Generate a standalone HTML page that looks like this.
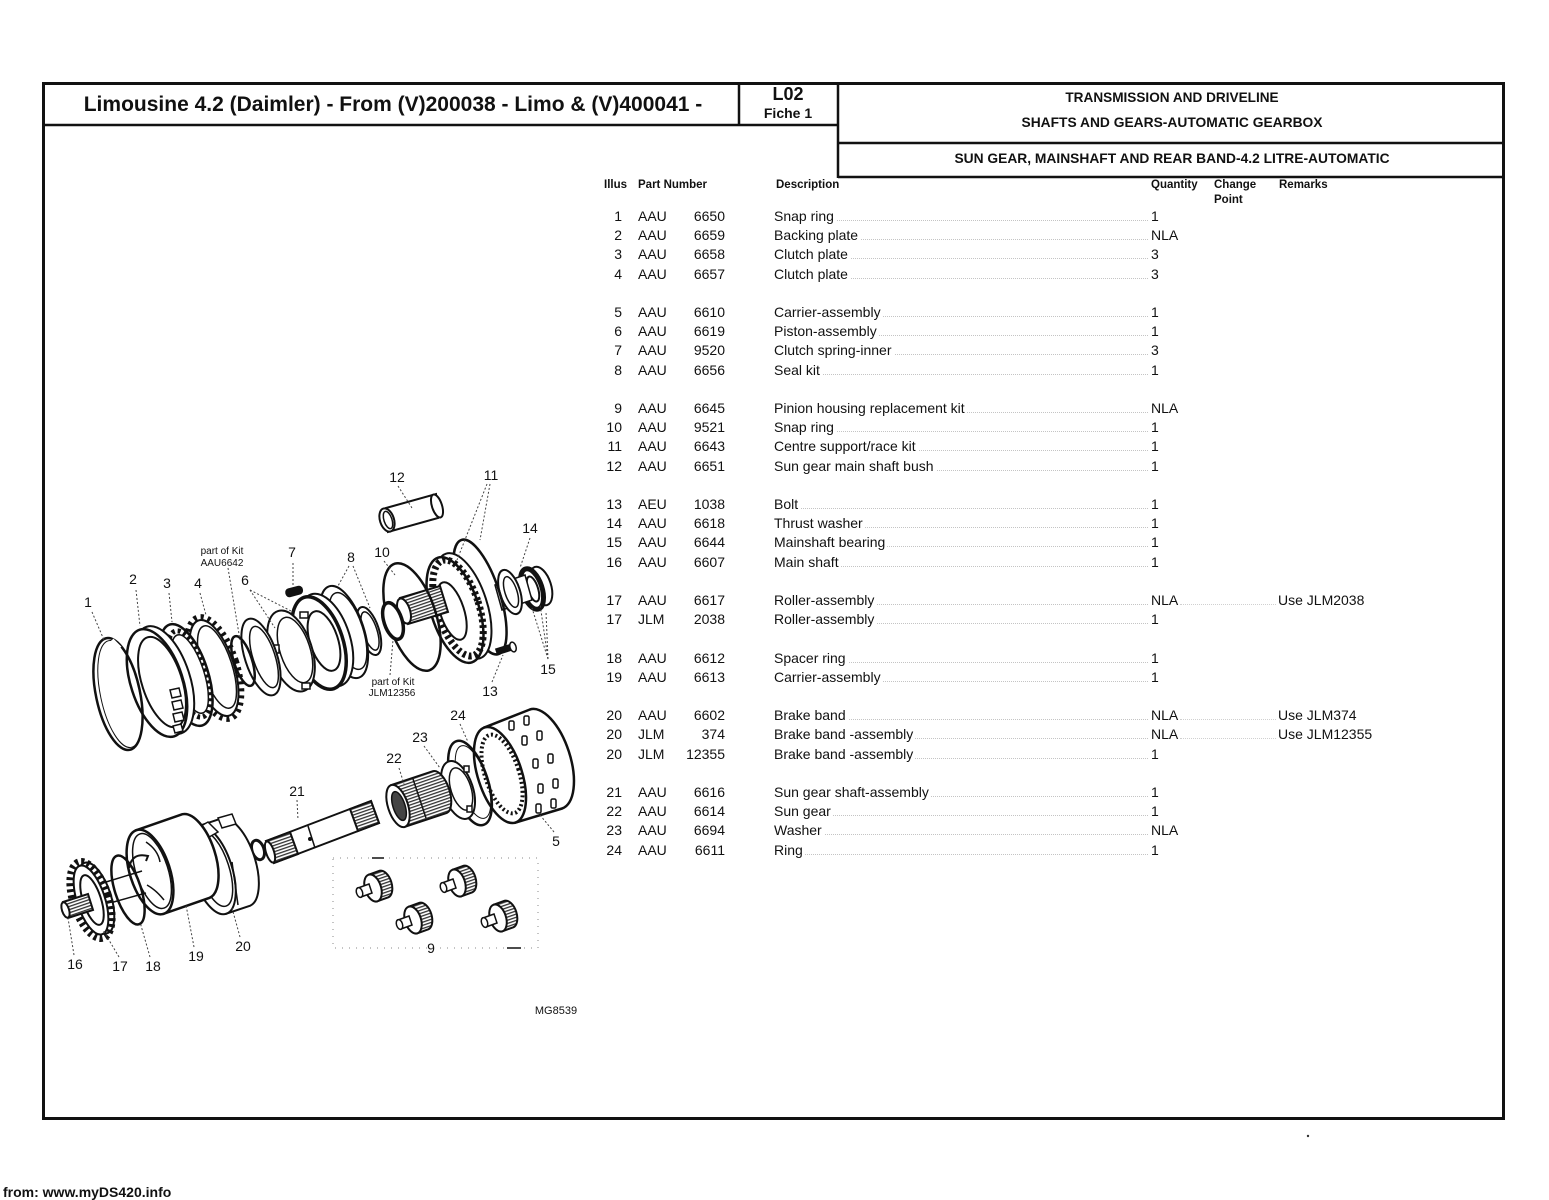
<!DOCTYPE html>
<html><head><meta charset="utf-8">
<style>
html,body{margin:0;padding:0;background:#fff;}
body{width:1549px;height:1200px;position:relative;overflow:hidden;font-family:"Liberation Sans",Arial,sans-serif;color:#111;}
svg{position:absolute;left:0;top:0;}
.r{position:absolute;left:0;width:1549px;height:16px;font-size:14px;line-height:16px;}
.r span{position:absolute;top:0;white-space:nowrap;}
.i{left:594px;width:28px;text-align:right;}
.p{left:638px;}
.n{left:670px;width:55px;text-align:right;}
.d{left:774px;width:374px;height:16px;}
.d::before{content:"";position:absolute;left:0;right:0;bottom:3px;border-bottom:1px dotted #c4c4c4;}
.d b{position:relative;font-weight:normal;background:#fff;padding-right:2px;}
.q{left:1151px;}
.m{left:1278px;}
.g{left:1180px;width:96px;height:16px;}
.g::before{content:"";position:absolute;left:0;right:0;bottom:3px;border-bottom:1px dotted #d0d0d0;}
</style></head><body>
<svg width="1549" height="1200" viewBox="0 0 1549 1200" xmlns="http://www.w3.org/2000/svg">
<defs>
<pattern id="hs" width="8" height="3" patternUnits="userSpaceOnUse" patternTransform="rotate(-19)"><rect width="8" height="3" fill="#fff"/><rect width="8" height="1.3" fill="#333"/></pattern>
<g id="pin">
<path d="M15.7,6.7 L26.7,2.7 A8,14 -18 0 1 35.3,29.3 L24.3,33.3 Z" fill="url(#hs)" stroke="#111" stroke-width="2"/>
<ellipse cx="20" cy="20" rx="8" ry="14" transform="rotate(-18 20 20)" fill="#fff" stroke="#111" stroke-width="2"/>
<path d="M5,20 L16,16 L19,25 L8,29 Z" fill="#fff" stroke="#111" stroke-width="1.5"/>
<ellipse cx="6.5" cy="24.5" rx="3" ry="5" transform="rotate(-18 6.5 24.5)" fill="#fff" stroke="#111" stroke-width="1.5"/>
</g>
</defs>

<!-- frame -->
<g stroke="#111" fill="none">
<rect x="43.5" y="83.5" width="1460" height="1035" stroke-width="3"/>
<line x1="43" y1="125" x2="839" y2="125" stroke-width="2.5"/>
<line x1="739" y1="83" x2="739" y2="125" stroke-width="2.5"/>
<line x1="838" y1="83" x2="838" y2="178" stroke-width="2.5"/>
<line x1="838" y1="143" x2="1504" y2="143" stroke-width="2.5"/>
<line x1="838" y1="177" x2="1504" y2="177" stroke-width="2.5"/>
</g>
<circle cx="1308" cy="1136" r="1.2" fill="#333"/>

<!-- header text -->
<g fill="#111" font-family="Liberation Sans, Arial, sans-serif" font-weight="bold" text-anchor="middle">
<text x="393" y="111" font-size="21">Limousine 4.2 (Daimler) - From (V)200038 - Limo &amp; (V)400041 -</text>
<text x="788" y="100" font-size="18">L02</text>
<text x="788" y="118" font-size="14">Fiche 1</text>
<text x="1172" y="102" font-size="13.6">TRANSMISSION AND DRIVELINE</text>
<text x="1172" y="127" font-size="13.8">SHAFTS AND GEARS-AUTOMATIC GEARBOX</text>
<text x="1172" y="163" font-size="13.8">SUN GEAR, MAINSHAFT AND REAR BAND-4.2 LITRE-AUTOMATIC</text>
</g>
<g fill="#111" font-family="Liberation Sans, Arial, sans-serif" font-weight="bold" font-size="11.5">
<text x="604" y="188">Illus</text>
<text x="638" y="188">Part Number</text>
<text x="776" y="188">Description</text>
<text x="1151" y="188">Quantity</text>
<text x="1214" y="188">Change</text>
<text x="1214" y="203">Point</text>
<text x="1279" y="188">Remarks</text>
</g>

<!-- footer -->
<text x="3" y="1197" font-family="Liberation Sans, Arial, sans-serif" font-weight="bold" font-size="14" fill="#111">from: www.myDS420.info</text>

<!-- ===== DRAWING: upper assembly ===== -->
<g stroke="#111" fill="none">
<!-- tube 12 -->
<path d="M386,508 L436,494 L438,518 L388,532 Z" fill="#fff" stroke-width="2"/>
<ellipse cx="437" cy="506" rx="5" ry="12" transform="rotate(-18 437 506)" fill="#fff" stroke-width="2"/>
<ellipse cx="387" cy="520" rx="7" ry="12" transform="rotate(-18 387 520)" fill="#fff" stroke-width="2"/>
<ellipse cx="388" cy="520" rx="4" ry="9" transform="rotate(-18 388 520)" stroke-width="1.5"/>

<!-- bearing 15 / washer 14 -->
<ellipse cx="541" cy="586" rx="10" ry="20" transform="rotate(-18 541 586)" fill="#fff" stroke-width="2"/>
<ellipse cx="532" cy="589" rx="10" ry="21" transform="rotate(-18 532 589)" fill="#fff" stroke-width="5"/>
<ellipse cx="533" cy="589" rx="5" ry="13" transform="rotate(-18 533 589)" stroke-width="2"/>
<path d="M495,585 L525,575 L532,600 L502,610 Z" fill="#fff" stroke-width="1.5"/>
<ellipse cx="510" cy="592" rx="10" ry="23" transform="rotate(-18 510 592)" fill="#fff" stroke-width="2"/>
<ellipse cx="511" cy="592" rx="6" ry="16" transform="rotate(-18 511 592)" stroke-width="1.5"/>

<!-- ring 11 outer -->
<ellipse cx="480" cy="597" rx="20" ry="60" transform="rotate(-18 480 597)" stroke-width="2.5"/>
<!-- centre support disc -->
<ellipse cx="463" cy="606" rx="24" ry="55" transform="rotate(-18 463 606)" fill="#fff" stroke-width="2"/>
<ellipse cx="455" cy="610" rx="24" ry="55" transform="rotate(-18 455 610)" fill="#fff" stroke-width="2.5"/>
<ellipse cx="458" cy="608" rx="21" ry="50" transform="rotate(-18 458 608)" stroke-width="7" stroke-dasharray="3 3"/>
<ellipse cx="452" cy="611" rx="12" ry="30" transform="rotate(-18 452 611)" fill="#fff" stroke-width="2"/>
<!-- threaded hub -->
<path d="M400,598 L440,586 L448,612 L408,624 Z" fill="url(#hs)" stroke-width="2"/>
<ellipse cx="404" cy="611" rx="6" ry="13" transform="rotate(-18 404 611)" fill="#fff" stroke-width="2"/>
<!-- snap ring 10 -->
<ellipse cx="412" cy="617" rx="24" ry="56" transform="rotate(-18 412 617)" stroke-width="2.5"/>
<!-- small ring JLM -->
<ellipse cx="393" cy="621" rx="9" ry="19" transform="rotate(-18 393 621)" fill="#fff" stroke-width="3.5"/>
<!-- bolt 13 -->
<line x1="496" y1="652" x2="512" y2="647" stroke-width="7"/>
<ellipse cx="513" cy="647" rx="3" ry="5" transform="rotate(-18 513 647)" fill="#fff" stroke-width="1.5"/>

<!-- seal rings 8 -->
<ellipse cx="369" cy="631" rx="10" ry="25" transform="rotate(-18 369 631)" fill="#fff" stroke-width="2"/>
<ellipse cx="370" cy="631" rx="7" ry="20" transform="rotate(-18 370 631)" stroke-width="1.5"/>
<ellipse cx="344" cy="632" rx="20" ry="48" transform="rotate(-18 344 632)" fill="#fff" stroke-width="2"/>
<ellipse cx="348" cy="631" rx="15" ry="40" transform="rotate(-18 348 631)" stroke-width="1.5"/>

<!-- piston 6 thick -->
<ellipse cx="326" cy="640" rx="24" ry="48" transform="rotate(-18 326 640)" fill="#fff" stroke-width="2"/>
<ellipse cx="319" cy="643" rx="24" ry="48" transform="rotate(-18 319 643)" fill="#fff" stroke-width="3.5"/>
<ellipse cx="324" cy="641" rx="14" ry="31" transform="rotate(-18 324 641)" fill="#fff" stroke-width="2"/>
<!-- bar 7 -->
<rect x="285" y="587" width="18" height="9" rx="4" fill="#111" stroke="none" transform="rotate(-15 294 591)"/>
<!-- piston ring with tabs -->
<ellipse cx="291" cy="651" rx="21" ry="42" transform="rotate(-18 291 651)" fill="#fff" stroke-width="2"/>
<ellipse cx="295" cy="650" rx="15" ry="34" transform="rotate(-18 295 650)" stroke-width="1.5"/>
<rect x="300" y="612" width="8" height="6" fill="#fff" stroke-width="1.5"/>
<rect x="302" y="683" width="8" height="6" fill="#fff" stroke-width="1.5"/>
<rect x="273" y="645" width="6" height="8" fill="#fff" stroke-width="1.5"/>
<!-- ring plate -->
<ellipse cx="261" cy="657" rx="16" ry="40" transform="rotate(-18 261 657)" fill="#fff" stroke-width="2"/>
<ellipse cx="264" cy="657" rx="11" ry="32" transform="rotate(-18 264 657)" stroke-width="1.5"/>
<!-- small snap ring -->
<ellipse cx="243" cy="661" rx="9" ry="26" transform="rotate(-18 243 661)" stroke-width="2.5"/>
<!-- plate 4 -->
<ellipse cx="214" cy="668" rx="23" ry="53" transform="rotate(-18 214 668)" stroke-width="6" stroke-dasharray="3 4"/>
<ellipse cx="214" cy="668" rx="20" ry="50" transform="rotate(-18 214 668)" fill="#fff" stroke-width="2"/>
<ellipse cx="217" cy="667" rx="15" ry="43" transform="rotate(-18 217 667)" stroke-width="1.5"/>
<!-- plate 3 -->
<ellipse cx="186" cy="675" rx="22" ry="53" transform="rotate(-18 186 675)" fill="#fff" stroke-width="2.5"/>
<ellipse cx="189" cy="674" rx="17" ry="45" transform="rotate(-18 189 674)" stroke-width="5" stroke-dasharray="3 3"/>
<ellipse cx="190" cy="674" rx="14" ry="41" transform="rotate(-18 190 674)" fill="#fff" stroke-width="1.5"/>
<!-- plate 2 -->
<ellipse cx="164" cy="680" rx="26" ry="56" transform="rotate(-18 164 680)" fill="#fff" stroke-width="2"/>
<ellipse cx="157" cy="683" rx="26" ry="56" transform="rotate(-18 157 683)" fill="#fff" stroke-width="2.5"/>
<ellipse cx="162" cy="682" rx="20" ry="47" transform="rotate(-18 162 682)" fill="#fff" stroke-width="2"/>
<path d="M170,690 l9,-2 l2,8 l-9,2 z M172,702 l9,-2 l2,8 l-9,2 z M173,714 l9,-2 l2,8 l-9,2 z M173,726 l8,-2 l2,7 l-8,2 z" fill="#fff" stroke-width="1.5"/>
<!-- ring 1 -->
<ellipse cx="118" cy="694" rx="22" ry="57" transform="rotate(-12 118 694)" stroke-width="2.5"/>
<ellipse cx="120" cy="694" rx="19.5" ry="54.5" transform="rotate(-12 120 694)" stroke-width="1"/>
<line x1="112" y1="640" x2="120" y2="648" stroke="#fff" stroke-width="4"/>
</g>

<!-- ===== DRAWING: lower assembly ===== -->
<g stroke="#111" fill="none">
<!-- carrier 5 -->
<path d="M484.5,727.4 L529.9,709.5 A24,52 -18 0 1 562.1,808.5 L515.5,822.6 Z" fill="#fff" stroke-width="2.5"/>
<g fill="#fff" stroke-width="1.5">
<rect x="509" y="721" width="5" height="9" rx="1.5"/><rect x="522" y="736" width="5" height="9" rx="1.5"/><rect x="533" y="759" width="5" height="9" rx="1.5"/><rect x="538" y="784" width="5" height="9" rx="1.5"/><rect x="536" y="804" width="5" height="9" rx="1.5"/>
<rect x="524" y="716" width="5" height="9" rx="1.5"/><rect x="537" y="731" width="5" height="9" rx="1.5"/><rect x="548" y="754" width="5" height="9" rx="1.5"/><rect x="553" y="779" width="5" height="9" rx="1.5"/><rect x="551" y="799" width="5" height="9" rx="1.5"/>
</g>
<ellipse cx="500" cy="775" rx="22" ry="50" transform="rotate(-18 500 775)" fill="#fff" stroke-width="2.5"/>
<ellipse cx="502" cy="774" rx="17" ry="41" transform="rotate(-18 502 774)" stroke-width="4" stroke-dasharray="2 2.5"/>
<!-- ring 24 -->
<ellipse cx="470" cy="783" rx="18" ry="44" transform="rotate(-18 470 783)" stroke-width="2.5"/>
<ellipse cx="473" cy="782" rx="14" ry="38" transform="rotate(-18 473 782)" stroke-width="1"/>
<!-- washer 23 -->
<ellipse cx="458" cy="790" rx="15" ry="30" transform="rotate(-18 458 790)" fill="#fff" stroke-width="2"/>
<ellipse cx="461" cy="789" rx="10" ry="22" transform="rotate(-18 461 789)" stroke-width="1.5"/>
<rect x="464" y="766" width="5" height="6" fill="#fff" stroke-width="1.5"/>
<rect x="467" y="806" width="5" height="6" fill="#fff" stroke-width="1.5"/>
<!-- sun gear 22 -->
<path d="M391.2,785.1 L433.2,771.1 A10,22 -18 0 1 446.8,812.9 L404.8,826.9 Z" fill="url(#hs)" stroke-width="2"/>
<line x1="413" y1="779" x2="426" y2="818" stroke-width="1.5"/>
<ellipse cx="398" cy="806" rx="10" ry="22" transform="rotate(-18 398 806)" fill="#fff" stroke-width="2"/>
<ellipse cx="399" cy="806" rx="6" ry="15" transform="rotate(-18 399 806)" fill="#444" stroke-width="1.5"/>
<!-- shaft 21 -->
<path d="M266,841 L371,801 L379,823 L274,863 Z" fill="#fff" stroke-width="2"/>
<path d="M350,809 L371,801 L379,823 L358,831 Z" fill="url(#hs)" stroke-width="2"/>
<path d="M266,841 L290,832 L298,854 L274,863 Z" fill="url(#hs)" stroke-width="2"/>
<line x1="290" y1="832" x2="298" y2="854" stroke-width="1.5"/>
<line x1="308" y1="826" x2="315" y2="848" stroke-width="1.5"/>
<ellipse cx="270" cy="852" rx="4" ry="11" transform="rotate(-18 270 852)" fill="#fff" stroke-width="2"/>
<circle cx="310" cy="839" r="1.5" fill="#111"/>
<!-- small ring -->
<ellipse cx="258" cy="850" rx="6" ry="10" transform="rotate(-18 258 850)" fill="#fff" stroke-width="3"/>
<!-- brake band 20 -->
<path d="M197.8,826.3 L221.8,818.3 A20,46 -18 0 1 250.2,905.7 L226.2,913.7 Z" fill="#fff" stroke-width="2"/>
<ellipse cx="212" cy="870" rx="20" ry="46" transform="rotate(-18 212 870)" fill="#fff" stroke-width="2"/>
<ellipse cx="214" cy="869" rx="15" ry="39" transform="rotate(-18 214 869)" stroke-width="1.5"/>
<path d="M185,835 L208,822 L218,832 L195,845 Z" fill="#fff" stroke-width="1.5"/>
<path d="M218,818 l14,-4 l4,10 l-14,4 z" fill="#fff" stroke-width="1.5"/>
<line x1="232" y1="862" x2="238" y2="905" stroke-width="1.5"/>
<!-- drum 19 -->
<path d="M136.4,830.2 L182.4,814.2 A20,44 -18 0 1 209.6,897.8 L163.6,913.8 Z" fill="#fff" stroke-width="2.5"/>
<ellipse cx="150" cy="872" rx="20" ry="44" transform="rotate(-18 150 872)" fill="#fff" stroke-width="2.5"/>
<ellipse cx="152" cy="871" rx="16" ry="39" transform="rotate(-18 152 871)" stroke-width="1.5"/>
<path d="M146,842 Q158,850 160,862 M147,885 Q156,890 164,900" stroke-width="1.5"/>
<!-- rod lines -->
<line x1="106" y1="882" x2="142" y2="871" stroke-width="1.5"/>
<line x1="110" y1="903" x2="146" y2="893" stroke-width="1.5"/>
<!-- spacer ring 18 -->
<ellipse cx="128" cy="890" rx="13" ry="36" transform="rotate(-18 128 890)" stroke-width="2.5"/>
<path d="M129,868 Q132,852 148,856 L146,861" stroke-width="2"/>
<!-- gear 17 -->
<ellipse cx="96" cy="898" rx="15" ry="37" transform="rotate(-18 96 898)" fill="#fff" stroke-width="2"/>
<ellipse cx="91" cy="900" rx="18" ry="40" transform="rotate(-18 91 900)" stroke-width="7" stroke-dasharray="3 3"/>
<ellipse cx="91" cy="900" rx="14" ry="36" transform="rotate(-18 91 900)" fill="#fff" stroke-width="2"/>
<ellipse cx="92" cy="900" rx="9" ry="26" transform="rotate(-18 92 900)" stroke-width="2"/>
<!-- shaft 16 -->
<path d="M63,902 L88,894 L93,910 L68,918 Z" fill="url(#hs)" stroke-width="2"/>
<ellipse cx="65.5" cy="910" rx="3.5" ry="8" transform="rotate(-18 65.5 910)" fill="#fff" stroke-width="2"/>

<!-- box 9 -->
<rect x="333" y="858" width="205" height="90" stroke="#888" stroke-width="1" stroke-dasharray="1 6"/>
<line x1="372" y1="858" x2="384" y2="858" stroke-width="1.5"/>
<line x1="507" y1="948" x2="521" y2="948" stroke-width="1.5"/>
</g>
<use href="#pin" x="353" y="868"/>
<use href="#pin" x="437" y="863"/>
<use href="#pin" x="393" y="900"/>
<use href="#pin" x="478" y="898"/>

<!-- leader lines -->
<g stroke="#444" stroke-width="1" stroke-dasharray="2 2" fill="none">
<line x1="92" y1="612" x2="104" y2="640"/>
<line x1="136" y1="590" x2="140" y2="626"/>
<line x1="169" y1="593" x2="172" y2="622"/>
<line x1="200" y1="593" x2="206" y2="615"/>
<line x1="228" y1="568" x2="240" y2="640"/>
<line x1="250" y1="590" x2="293" y2="612"/>
<line x1="250" y1="590" x2="275" y2="628"/>
<line x1="293" y1="563" x2="293" y2="586"/>
<line x1="349" y1="566" x2="338" y2="586"/>
<line x1="353" y1="566" x2="370" y2="608"/>
<line x1="384" y1="561" x2="395" y2="575"/>
<line x1="490" y1="484" x2="480" y2="540"/>
<line x1="487" y1="484" x2="457" y2="560"/>
<line x1="398" y1="486" x2="412" y2="508"/>
<line x1="530" y1="538" x2="520" y2="568"/>
<line x1="548" y1="659" x2="532" y2="608"/>
<line x1="548" y1="659" x2="540" y2="604"/>
<line x1="548" y1="659" x2="546" y2="612"/>
<line x1="492" y1="682" x2="503" y2="655"/>
<line x1="390" y1="675" x2="393" y2="640"/>
<line x1="460" y1="724" x2="468" y2="742"/>
<line x1="424" y1="746" x2="440" y2="768"/>
<line x1="399" y1="768" x2="404" y2="784"/>
<line x1="297" y1="800" x2="298" y2="820"/>
<line x1="554" y1="832" x2="540" y2="815"/>
<line x1="240" y1="937" x2="232" y2="908"/>
<line x1="194" y1="947" x2="186" y2="905"/>
<line x1="150" y1="957" x2="140" y2="922"/>
<line x1="119" y1="957" x2="103" y2="930"/>
<line x1="74" y1="955" x2="68" y2="918"/>
</g>

<!-- drawing labels -->
<g fill="#111" font-family="Liberation Sans, Arial, sans-serif" font-size="14" text-anchor="middle">
<text x="397" y="482">12</text>
<text x="491" y="480">11</text>
<text x="530" y="533">14</text>
<text x="292" y="557">7</text>
<text x="351" y="562">8</text>
<text x="382" y="557">10</text>
<text x="133" y="584">2</text>
<text x="167" y="588">3</text>
<text x="198" y="588">4</text>
<text x="245" y="585">6</text>
<text x="88" y="607">1</text>
<text x="548" y="674">15</text>
<text x="490" y="696">13</text>
<text x="458" y="720">24</text>
<text x="420" y="742">23</text>
<text x="394" y="763">22</text>
<text x="297" y="796">21</text>
<text x="556" y="846">5</text>
<text x="75" y="969">16</text>
<text x="120" y="971">17</text>
<text x="153" y="971">18</text>
<text x="196" y="961">19</text>
<text x="243" y="951">20</text>
<text x="431" y="953">9</text>
</g>
<g fill="#111" font-family="Liberation Sans, Arial, sans-serif" font-size="10" text-anchor="middle">
<text x="222" y="554">part of Kit</text>
<text x="222" y="566">AAU6642</text>
<text x="393" y="685">part of Kit</text>
<text x="392" y="696">JLM12356</text>
<text x="556" y="1014" font-size="11">MG8539</text>
</g>
</svg>

<!-- parts table -->
<div class="r" style="top:208px"><span class="i">1</span><span class="p">AAU</span><span class="n">6650</span><span class="d"><b>Snap ring</b></span><span class="q">1</span></div>
<div class="r" style="top:227.2px"><span class="i">2</span><span class="p">AAU</span><span class="n">6659</span><span class="d"><b>Backing plate</b></span><span class="q">NLA</span></div>
<div class="r" style="top:246.4px"><span class="i">3</span><span class="p">AAU</span><span class="n">6658</span><span class="d"><b>Clutch plate</b></span><span class="q">3</span></div>
<div class="r" style="top:265.6px"><span class="i">4</span><span class="p">AAU</span><span class="n">6657</span><span class="d"><b>Clutch plate</b></span><span class="q">3</span></div>

<div class="r" style="top:304px"><span class="i">5</span><span class="p">AAU</span><span class="n">6610</span><span class="d"><b>Carrier-assembly</b></span><span class="q">1</span></div>
<div class="r" style="top:323.2px"><span class="i">6</span><span class="p">AAU</span><span class="n">6619</span><span class="d"><b>Piston-assembly</b></span><span class="q">1</span></div>
<div class="r" style="top:342.4px"><span class="i">7</span><span class="p">AAU</span><span class="n">9520</span><span class="d"><b>Clutch spring-inner</b></span><span class="q">3</span></div>
<div class="r" style="top:361.6px"><span class="i">8</span><span class="p">AAU</span><span class="n">6656</span><span class="d"><b>Seal kit</b></span><span class="q">1</span></div>

<div class="r" style="top:400px"><span class="i">9</span><span class="p">AAU</span><span class="n">6645</span><span class="d"><b>Pinion housing replacement kit</b></span><span class="q">NLA</span></div>
<div class="r" style="top:419.2px"><span class="i">10</span><span class="p">AAU</span><span class="n">9521</span><span class="d"><b>Snap ring</b></span><span class="q">1</span></div>
<div class="r" style="top:438.4px"><span class="i">11</span><span class="p">AAU</span><span class="n">6643</span><span class="d"><b>Centre support/race kit</b></span><span class="q">1</span></div>
<div class="r" style="top:457.6px"><span class="i">12</span><span class="p">AAU</span><span class="n">6651</span><span class="d"><b>Sun gear main shaft bush</b></span><span class="q">1</span></div>

<div class="r" style="top:496px"><span class="i">13</span><span class="p">AEU</span><span class="n">1038</span><span class="d"><b>Bolt</b></span><span class="q">1</span></div>
<div class="r" style="top:515.2px"><span class="i">14</span><span class="p">AAU</span><span class="n">6618</span><span class="d"><b>Thrust washer</b></span><span class="q">1</span></div>
<div class="r" style="top:534.4px"><span class="i">15</span><span class="p">AAU</span><span class="n">6644</span><span class="d"><b>Mainshaft bearing</b></span><span class="q">1</span></div>
<div class="r" style="top:553.6px"><span class="i">16</span><span class="p">AAU</span><span class="n">6607</span><span class="d"><b>Main shaft</b></span><span class="q">1</span></div>

<div class="r" style="top:592px"><span class="i">17</span><span class="p">AAU</span><span class="n">6617</span><span class="d"><b>Roller-assembly</b></span><span class="q">NLA</span><span class="g"></span><span class="m">Use JLM2038</span></div>
<div class="r" style="top:611.2px"><span class="i">17</span><span class="p">JLM</span><span class="n">2038</span><span class="d"><b>Roller-assembly</b></span><span class="q">1</span></div>

<div class="r" style="top:649.6px"><span class="i">18</span><span class="p">AAU</span><span class="n">6612</span><span class="d"><b>Spacer ring</b></span><span class="q">1</span></div>
<div class="r" style="top:668.8px"><span class="i">19</span><span class="p">AAU</span><span class="n">6613</span><span class="d"><b>Carrier-assembly</b></span><span class="q">1</span></div>

<div class="r" style="top:707.2px"><span class="i">20</span><span class="p">AAU</span><span class="n">6602</span><span class="d"><b>Brake band</b></span><span class="q">NLA</span><span class="g"></span><span class="m">Use JLM374</span></div>
<div class="r" style="top:726.4px"><span class="i">20</span><span class="p">JLM</span><span class="n">374</span><span class="d"><b>Brake band -assembly</b></span><span class="q">NLA</span><span class="g"></span><span class="m">Use JLM12355</span></div>
<div class="r" style="top:745.6px"><span class="i">20</span><span class="p">JLM</span><span class="n">12355</span><span class="d"><b>Brake band -assembly</b></span><span class="q">1</span></div>

<div class="r" style="top:784px"><span class="i">21</span><span class="p">AAU</span><span class="n">6616</span><span class="d"><b>Sun gear shaft-assembly</b></span><span class="q">1</span></div>
<div class="r" style="top:803.2px"><span class="i">22</span><span class="p">AAU</span><span class="n">6614</span><span class="d"><b>Sun gear</b></span><span class="q">1</span></div>
<div class="r" style="top:822.4px"><span class="i">23</span><span class="p">AAU</span><span class="n">6694</span><span class="d"><b>Washer</b></span><span class="q">NLA</span></div>
<div class="r" style="top:841.6px"><span class="i">24</span><span class="p">AAU</span><span class="n">6611</span><span class="d"><b>Ring</b></span><span class="q">1</span></div>
</body></html>
